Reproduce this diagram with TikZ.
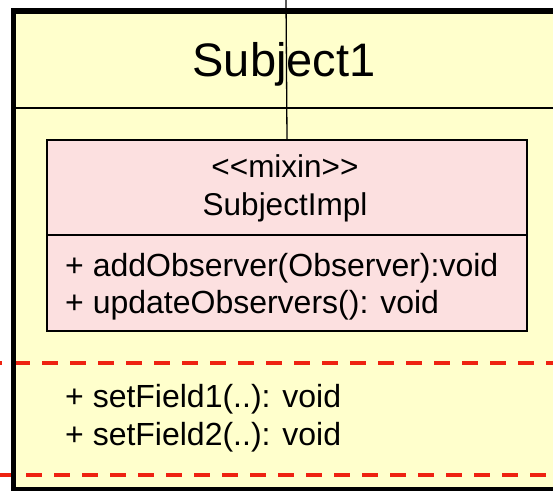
\documentclass[tikz,border=0pt]{standalone}
\usepackage{fontspec}
\setmainfont{Liberation Sans}
\definecolor{classfill}{RGB}{255,255,204}
\definecolor{mixinfill}{RGB}{252,224,224}
\definecolor{sectiondash}{RGB}{238,34,17}
\begin{document}
\begin{tikzpicture}[x=1pt,y=-1pt,
  member/.style={inner sep=0pt, anchor=base west, font=\fontsize{32}{38}\selectfont},
  caption/.style={inner sep=0pt, anchor=base, font=\fontsize{31.5}{38}\selectfont},
  classtitle/.style={inner sep=0pt, anchor=base, font=\fontsize{47}{56}\selectfont},
  sectionline/.style={sectiondash, line width=4pt, dash pattern=on 16pt off 12pt},
  mixinbox/.style={draw, line width=2pt, fill=mixinfill, inner sep=0pt,
    minimum width=480pt, minimum height=191pt, anchor=north west}]
\useasboundingbox (0,0) rectangle (553,490);
\clip (0,0) rectangle (553,490);

% class body of Subject1
\fill[classfill] (13.5,11) rectangle (600,500);
\draw[sectionline] (-14,363) -- (600,363);
\draw[sectionline] (-2,475) -- (600,475);
\draw[line width=2pt] (16,107.5) -- (600,107.5);
\draw[line width=5.5pt] (600,11) -- (13.5,11) -- (13.5,490) -- (600,490);

\node[classtitle] (title) at (284,76) {Subject1};

% mixin compartment
\node[mixinbox] (impl) at (46,139) {};
\draw[line width=2pt] (46,235) -- (526,235);
\node[caption] (stereo) at (285,177) {{<}{<}mixin{>}{>}};
\node[caption] (implname) at (285,215) {SubjectImpl};
\node[member] (m1) at (65,276) {+ addObserver(Observer):void};
\node[member] (m2) at (65,313) {+ updateObservers(): void};

% own operations
\node[member] (f1) at (65,407) {+ setField1(..): void};
\node[member] (f2) at (65,445) {+ setField2(..): void};

% link entering from above
\coordinate (wire) at (286,-2);
\draw[line width=1.3pt] (wire) -- (impl.north);
\end{tikzpicture}
\end{document}
